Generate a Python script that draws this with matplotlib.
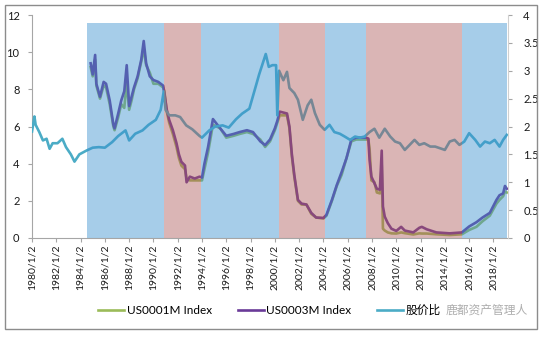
import matplotlib
matplotlib.use("Agg")
import matplotlib.pyplot as plt
from matplotlib.patches import Rectangle

plt.rcParams['font.family'] = ['Lato', 'Noto Sans CJK SC', 'DejaVu Sans']

# ---------------- data ----------------
rate_years = [1984.83, 1985.0, 1985.2, 1985.3, 1985.6, 1985.9, 1986.1, 1986.4, 1986.7, 1986.8,
              1987.1, 1987.35, 1987.6, 1987.8, 1988.0, 1988.2, 1988.4, 1988.7, 1989.0, 1989.2,
              1989.4, 1989.7, 1990.0, 1990.4, 1990.8, 1990.9, 1991.1, 1991.3, 1991.6, 1991.9,
              1992.1, 1992.3, 1992.6, 1992.73, 1993.0, 1993.4, 1993.8, 1994.0, 1994.2, 1994.5,
              1994.9, 1995.5, 1996.0, 1996.6, 1997.1, 1997.7, 1998.2, 1998.8, 1999.2, 1999.6,
              2000.0, 2000.2, 2000.4, 2000.7, 2001.0, 2001.2, 2001.4, 2001.6, 2001.9, 2002.2,
              2002.6, 2003.0, 2003.4, 2004.0, 2004.25, 2004.7, 2005.1, 2005.5, 2005.9, 2006.3,
              2006.7, 2007.5, 2007.7, 2007.8, 2007.95, 2008.2, 2008.4, 2008.65, 2008.8, 2008.9,
              2009.05, 2009.3, 2009.6, 2010.0, 2010.4, 2010.7, 2011.4, 2011.9, 2012.1, 2012.5,
              2013.3, 2014.4, 2015.4, 2016.0, 2016.6, 2017.1, 2017.7, 2018.25, 2018.5, 2018.8,
              2018.95, 2019.1]

us0003m = [9.4, 8.8, 9.85, 8.3, 7.6, 8.4, 8.3, 7.4, 6.1, 5.9,
           6.7, 7.4, 7.9, 9.3, 7.1, 7.6, 8.1, 8.7, 9.6, 10.6,
           9.4, 8.7, 8.5, 8.4, 8.2, 7.8, 6.9, 6.35, 5.8, 5.1,
           4.5, 4.1, 3.9, 3.0, 3.3, 3.2, 3.3, 3.25, 4.0, 4.9,
           6.4, 5.9, 5.5, 5.6, 5.7, 5.8, 5.7, 5.2, 5.0, 5.3,
           5.9, 6.3, 6.8, 6.75, 6.7, 6.0, 4.5, 3.4, 2.05, 1.85,
           1.8, 1.35, 1.1, 1.08, 1.25, 2.05, 2.85, 3.55, 4.3, 5.3,
           5.4, 5.4, 5.35, 4.2, 3.3, 2.95, 2.65, 2.6, 4.7, 1.7,
           1.15, 0.8, 0.5, 0.38, 0.6, 0.4, 0.3, 0.55, 0.6, 0.47,
           0.3, 0.25, 0.3, 0.62, 0.85, 1.1, 1.35, 2.05, 2.3, 2.4,
           2.8, 2.65]

us0001m = [9.2, 8.7, 9.6, 8.2, 7.5, 8.2, 8.1, 7.2, 6.0, 5.8,
           6.5, 7.2, 7.0, 8.4, 6.9, 7.4, 8.0, 8.6, 9.5, 10.2,
           9.3, 8.9, 8.3, 8.3, 8.1, 7.9, 6.8, 6.2, 5.6, 4.9,
           4.3, 3.9, 3.7, 3.2, 3.1, 3.1, 3.1, 3.1, 3.7, 4.6,
           6.1, 5.9, 5.4, 5.5, 5.6, 5.7, 5.6, 5.3, 4.9, 5.2,
           5.8, 6.2, 6.6, 6.6, 6.6, 5.9, 4.4, 3.3, 2.0, 1.8,
           1.8, 1.3, 1.1, 1.05, 1.2, 2.0, 2.8, 3.4, 4.3, 5.2,
           5.3, 5.3, 5.3, 4.8, 3.1, 3.0, 2.45, 2.4, 3.9, 0.5,
           0.4, 0.3, 0.25, 0.24, 0.3, 0.26, 0.19, 0.25, 0.24, 0.24,
           0.2, 0.16, 0.2, 0.43, 0.6, 0.9, 1.2, 1.85, 2.05, 2.25,
           2.5, 2.45]

ratio_years = [1980.0, 1980.2, 1980.3, 1980.6, 1980.9, 1981.2, 1981.45, 1981.7, 1982.1, 1982.5,
               1982.8, 1983.2, 1983.5, 1983.9, 1984.5, 1985.0, 1985.5, 1986.0, 1986.6, 1987.1,
               1987.7, 1988.0, 1988.5, 1989.1, 1989.6, 1990.2, 1990.6, 1990.85, 1991.0, 1991.3,
               1991.8, 1992.2, 1992.7, 1993.2, 1993.8, 1994.0, 1994.6, 1995.1, 1995.7, 1996.2,
               1996.8, 1997.3, 1997.9, 1998.4, 1998.7, 1999.25, 1999.5, 1999.8, 2000.1, 2000.2,
               2000.35, 2000.7, 2001.0, 2001.2, 2001.6, 2001.9, 2002.3, 2002.7, 2003.0, 2003.3,
               2003.7, 2004.1, 2004.5, 2004.9, 2005.35, 2005.75, 2006.2, 2006.6, 2007.0, 2007.4,
               2007.8, 2008.2, 2008.6, 2009.05, 2009.5, 2009.9, 2010.3, 2010.7, 2011.1, 2011.5,
               2011.9, 2012.3, 2012.8, 2013.2, 2013.6, 2014.0, 2014.4, 2014.8, 2015.2, 2015.6,
               2016.0, 2016.5, 2016.9, 2017.3, 2017.7, 2018.1, 2018.5, 2018.8, 2019.1]

ratio_values = [1.91, 2.18, 2.03, 1.9, 1.75, 1.78, 1.6, 1.7, 1.7, 1.78,
                1.63, 1.5, 1.37, 1.5, 1.57, 1.62, 1.63, 1.62, 1.72, 1.83,
                1.93, 1.75, 1.87, 1.93, 2.03, 2.12, 2.3, 2.63, 2.3, 2.2,
                2.2, 2.17, 2.02, 1.95, 1.83, 1.8, 1.93, 2.0, 2.02, 1.98,
                2.13, 2.23, 2.32, 2.7, 2.93, 3.3, 3.07, 3.1, 3.1, 2.2,
                3.0, 2.83, 2.98, 2.69, 2.6, 2.48, 2.12, 2.38, 2.48, 2.24,
                2.03, 1.94, 2.03, 1.9, 1.87, 1.82, 1.76, 1.82, 1.8, 1.82,
                1.9, 1.96, 1.8, 1.96, 1.82, 1.73, 1.7, 1.58, 1.67, 1.76,
                1.67, 1.7, 1.64, 1.64, 1.61, 1.58, 1.73, 1.76, 1.67, 1.73,
                1.88, 1.76, 1.64, 1.73, 1.7, 1.76, 1.64, 1.76, 1.85]

shade_starts = [1984.5, 1990.9, 1993.9, 2000.35, 2004.15, 2007.5, 2015.4]
shade_ends = [1990.9, 1993.9, 2000.35, 2004.15, 2007.5, 2015.4, 2019.1]
shade_kinds = ['blue', 'red', 'blue', 'red', 'blue', 'red', 'blue']

tick_years = list(range(1980, 2019, 2))
tick_labels = [f"{y}/1/2" for y in tick_years]

label_1m = "US0001M Index"
label_3m = "US0003M Index"
label_ratio = "股价比"
watermark = "鹿都资产管理人"

# ---------------- figure ----------------
W, H = 550, 339
fig = plt.figure(figsize=(W / 100, H / 100), dpi=100)
fig.patches.append(Rectangle((5 / W, 1 - 329 / H), 532 / W, 324 / H, transform=fig.transFigure,
                             fill=False, edgecolor='#8c8c8c', linewidth=1.0))

ax = fig.add_axes([32 / W, 1 - 238 / H, 476 / W, 223 / H])
ax2 = ax.twinx()

c1m = '#9BBB59'
c3m = '#6A3A98'
cr = '#4BACC6'
shade_col = {'blue': '#3A90CF', 'red': '#AD5B5B'}

ln1, = ax.plot(rate_years, us0001m, color=c1m, lw=1.9, zorder=2)
ln3, = ax.plot(rate_years, us0003m, color=c3m, lw=1.9, zorder=3)
lnr, = ax2.plot(ratio_years, ratio_values, color=cr, lw=1.9, zorder=2)

for s, e, k in zip(shade_starts, shade_ends, shade_kinds):
    ax2.axvspan(s, e, ymin=0, ymax=0.966, color=shade_col[k], alpha=0.45, lw=0, zorder=5)

ax.set_xlim(1980, 2019.2)
ax.set_ylim(0, 12)
ax2.set_ylim(0, 4)
ax.set_yticks([0, 2, 4, 6, 8, 10, 12])
ax2.set_yticks([0, 0.5, 1, 1.5, 2, 2.5, 3, 3.5, 4])
ax2.set_yticklabels(['0', '0.5', '1', '1.5', '2', '2.5', '3', '3.5', '4'])
ax.set_xticks(tick_years)
ax.set_xticklabels(tick_labels, rotation=90)

for a in (ax, ax2):
    a.patch.set_visible(False)
    a.spines['top'].set_visible(False)
    a.spines['left'].set_color('#a6a6a6')
    a.spines['bottom'].set_color('#a6a6a6')
    a.spines['right'].set_color('#d0d0d0')
    a.tick_params(colors='#a6a6a6', labelcolor='#1a1a1a', labelsize=8, length=3, width=0.8)
ax.spines['right'].set_visible(False)
ax2.spines['left'].set_visible(False)
ax2.spines['bottom'].set_visible(False)
ax.tick_params(axis='x', labelsize=7.5, pad=2)
ax.tick_params(axis='y', pad=6)
ax2.tick_params(axis='y', pad=8)

leg = fig.legend([ln1, ln3, lnr], [label_1m, label_3m, label_ratio], loc='center',
                 bbox_to_anchor=(0.49, 1 - 310 / H), ncol=3, frameon=False, fontsize=8.5,
                 handlelength=2.2, handletextpad=0.2, columnspacing=2.2)

fig.text(446 / W, 1 - 310 / H, watermark, fontsize=8.5, color='#9a9a9a', alpha=0.8,
         va='center', ha='left')

fig.savefig("out.png", dpi=100)
